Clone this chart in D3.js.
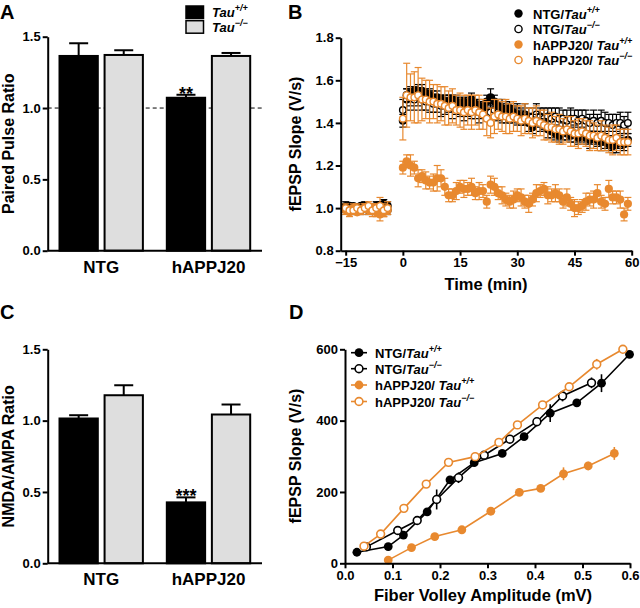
<!DOCTYPE html>
<html>
<head>
<meta charset="utf-8">
<script src="https://cdn.jsdelivr.net/npm/d3@7"></script>
<style>
body { margin: 0; background: #fff; }
svg { display: block; font-family: "Liberation Sans", Arial, sans-serif; font-weight: bold; }
</style>
</head>
<body>
<svg id="fig" width="640" height="608"></svg>
<script>
// ---- data ----
var groups = ['NTG', 'hAPPJ20'];
var genotypes = ['+/+', '−/−'];

// A: paired pulse ratio
var pprWT = [1.365, 1.072], pprWTsem = [0.089, 0.021];
var pprKO = [1.372, 1.365], pprKOsem = [0.033, 0.021];

// C: NMDA/AMPA ratio
var nmdaWT = [1.015, 0.427], nmdaWTsem = [0.023, 0.035];
var nmdaKO = [1.178, 1.043], nmdaKOsem = [0.070, 0.070];

// B: LTP time course (min)
var baseTimes = [-15, -14, -13, -12, -11, -10, -9, -8, -7, -6, -5, -4];
var postTimes = d3.range(0, 60);

var ntgWTbase = [1.00,1.01,0.99,1.00,1.01,1.00,0.99,1.00,1.01,1.00,1.02,1.01];
var ntgWTbaseSem = [0.02,0.01,0.02,0.02,0.01,0.02,0.02,0.01,0.02,0.02,0.02,0.02];
var ntgWTpost = [1.41,1.53,1.54,1.55,1.55,1.55,1.54,1.53,1.52,1.52,
  1.51,1.50,1.50,1.51,1.50,1.49,1.50,1.49,1.51,1.49,
  1.48,1.47,1.50,1.52,1.50,1.48,1.47,1.46,1.47,1.45,
  1.44,1.43,1.42,1.40,1.38,1.41,1.40,1.39,1.37,1.36,
  1.35,1.34,1.36,1.35,1.34,1.35,1.33,1.34,1.33,1.32,
  1.33,1.32,1.31,1.31,1.30,1.29,1.30,1.31,1.30,1.32];
var ntgWTpostSem = [0.03,0.03,0.03,0.02,0.03,0.03,0.02,0.03,0.03,0.03,
  0.02,0.03,0.03,0.02,0.03,0.03,0.02,0.03,0.03,0.02,
  0.03,0.03,0.03,0.04,0.03,0.03,0.04,0.03,0.03,0.03,
  0.03,0.03,0.03,0.04,0.03,0.03,0.04,0.03,0.04,0.03,
  0.03,0.03,0.04,0.03,0.03,0.04,0.03,0.03,0.03,0.04,
  0.03,0.03,0.04,0.03,0.03,0.03,0.04,0.03,0.03,0.03];

var ntgKObase = [1.01,1.00,1.01,1.00,0.99,1.01,1.00,1.00,0.99,1.01,1.00,0.99];
var ntgKObaseSem = [0.02,0.02,0.01,0.02,0.02,0.02,0.01,0.02,0.02,0.02,0.03,0.02];
var ntgKOpost = [1.46,1.51,1.52,1.51,1.52,1.51,1.50,1.50,1.49,1.49,
  1.48,1.48,1.49,1.47,1.48,1.47,1.46,1.47,1.46,1.46,
  1.45,1.46,1.45,1.45,1.46,1.45,1.44,1.45,1.44,1.44,
  1.44,1.43,1.44,1.43,1.43,1.44,1.43,1.42,1.43,1.42,
  1.43,1.42,1.42,1.41,1.42,1.42,1.41,1.42,1.41,1.40,
  1.41,1.40,1.41,1.40,1.40,1.39,1.40,1.40,1.39,1.40];
var ntgKOpostSem = [0.05,0.05,0.04,0.05,0.04,0.05,0.04,0.05,0.04,0.04,
  0.05,0.04,0.04,0.05,0.04,0.04,0.05,0.04,0.04,0.04,
  0.05,0.04,0.04,0.05,0.04,0.04,0.04,0.05,0.04,0.04,
  0.05,0.04,0.05,0.04,0.04,0.05,0.04,0.05,0.04,0.05,
  0.04,0.05,0.04,0.05,0.05,0.04,0.05,0.04,0.05,0.04,
  0.05,0.04,0.05,0.05,0.04,0.05,0.04,0.05,0.04,0.05];

var happWTbase = [0.99,0.98,1.00,0.98,0.99,1.00,0.99,1.00,0.98,0.97,0.98,0.99];
var happWTbaseSem = [0.02,0.02,0.02,0.01,0.02,0.02,0.02,0.02,0.02,0.03,0.02,0.02];
var happWTpost = [1.19,1.22,1.20,1.19,1.14,1.15,1.13,1.12,1.12,1.14,
  1.14,1.10,1.06,1.06,1.08,1.10,1.09,1.09,1.10,1.07,
  1.08,1.08,1.03,1.11,1.10,1.07,1.06,1.04,1.03,1.04,
  1.06,1.05,1.03,1.02,1.04,1.07,1.08,1.09,1.06,1.06,
  1.07,1.06,1.03,1.05,1.02,1.00,1.00,1.01,1.03,1.04,
  1.04,1.07,1.03,1.02,1.09,1.05,1.05,1.04,0.97,1.02];
var happWTpostSem = [0.03,0.03,0.05,0.03,0.04,0.03,0.04,0.03,0.04,0.06,
  0.04,0.04,0.03,0.03,0.04,0.03,0.04,0.03,0.04,0.03,
  0.04,0.03,0.03,0.04,0.04,0.03,0.04,0.03,0.03,0.04,
  0.03,0.04,0.03,0.04,0.03,0.04,0.03,0.03,0.04,0.03,
  0.04,0.03,0.03,0.04,0.03,0.04,0.03,0.03,0.04,0.03,
  0.04,0.04,0.03,0.03,0.04,0.03,0.03,0.04,0.03,0.03];

var happKObase = [1.00,0.99,0.99,1.00,0.99,1.00,1.01,0.99,1.00,1.01,0.99,1.00];
var happKObaseSem = [0.02,0.02,0.02,0.02,0.02,0.02,0.02,0.03,0.02,0.04,0.03,0.03];
var happKOpost = [1.42,1.53,1.52,1.52,1.53,1.51,1.51,1.50,1.50,1.49,
  1.49,1.48,1.47,1.48,1.46,1.46,1.45,1.46,1.45,1.46,
  1.45,1.44,1.42,1.40,1.43,1.44,1.43,1.43,1.42,1.43,
  1.42,1.41,1.42,1.41,1.40,1.41,1.40,1.39,1.38,1.38,
  1.37,1.37,1.36,1.37,1.36,1.35,1.35,1.36,1.35,1.34,
  1.34,1.33,1.34,1.33,1.32,1.32,1.33,1.31,1.31,1.31];
var happKOpostSem = [0.10,0.15,0.11,0.12,0.13,0.10,0.09,0.10,0.08,0.09,
  0.08,0.09,0.08,0.08,0.07,0.08,0.08,0.07,0.08,0.07,
  0.08,0.07,0.08,0.07,0.08,0.07,0.07,0.08,0.07,0.07,
  0.06,0.07,0.07,0.06,0.07,0.07,0.06,0.07,0.06,0.07,
  0.06,0.07,0.06,0.06,0.07,0.06,0.07,0.06,0.06,0.07,
  0.06,0.06,0.07,0.06,0.06,0.07,0.06,0.06,0.06,0.06];

// D: input-output (fiber volley mV vs fEPSP V/s)
var ioNtgWTx = [0.025,0.091,0.123,0.173,0.221,0.272,0.331,0.377,0.432,0.488,0.540,0.599];
var ioNtgWTy = [31,47,79,144,234,282,308,355,421,450,505,586];
var ioNtgWTsem = [0,0,0,0,0,0,0,0,25,0,25,0];
var ioNtgKOx = [0.045,0.111,0.152,0.193,0.239,0.293,0.347,0.404,0.458,0.519];
var ioNtgKOy = [46,92,120,179,240,303,348,397,469,506];
var ioNtgKOsem = [0,0,0,28,15,0,0,0,15,15];
var ioHappWTx = [0.091,0.140,0.189,0.246,0.307,0.367,0.412,0.460,0.512,0.567];
var ioHappWTy = [9,44,75,94,146,199,210,251,273,308];
var ioHappWTsem = [0,0,0,0,0,10,0,18,12,18];
var ioHappKOx = [0.040,0.075,0.124,0.171,0.218,0.274,0.324,0.363,0.416,0.472,0.530,0.585];
var ioHappKOy = [48,82,154,222,283,299,339,388,444,495,558,600];
var ioHappKOsem = [0,0,0,0,0,0,0,0,0,0,15,0];

// ---- drawing ----
var orange = '#e8892f';
var grey = '#dedede';
var svg = d3.select('#fig');

function styleAxis(g) {
  g.attr('font-family', null).attr('font-size', 13).attr('font-weight', 'bold');
  g.select('.domain').attr('stroke-width', 2);
  g.selectAll('.tick line').attr('stroke-width', 2);
  g.selectAll('.tick text').attr('fill', '#000');
}

function tauText(sel, prefix, sup) {
  if (prefix) sel.append('tspan').text(prefix);
  sel.append('tspan').attr('font-style', 'italic').text('Tau');
  sel.append('tspan').attr('font-style', 'italic').attr('font-size', 9).attr('dy', -6).text(sup);
}

function panelLetter(txt, x, y) {
  svg.append('text').attr('x', x).attr('y', y).attr('font-size', 20).text(txt);
}

function yTitle(txt, x, y) {
  svg.append('text').attr('transform', 'translate(' + x + ',' + y + ') rotate(-90)')
    .attr('text-anchor', 'middle').attr('font-size', 16).text(txt);
}

function barPanel(top, wt, wtSem, ko, koSem, label, stars, dashed) {
  var y = d3.scaleLinear().domain([0, 1.5]).range([top + 214, top]);
  var x0 = d3.scaleBand().domain(groups).range([47.7, 262]).paddingInner(0.223).paddingOuter(0.11);
  var x1 = d3.scaleBand().domain(genotypes).range([0, x0.bandwidth()]).paddingInner(0.15);
  var g = svg.append('g');

  if (dashed) {
    g.append('line').attr('x1', 47.7).attr('x2', 262).attr('y1', y(1)).attr('y2', y(1))
      .attr('stroke', '#000').attr('stroke-width', 1).attr('stroke-dasharray', '4,3');
  }

  var bars = [];
  groups.forEach(function(grp, i) {
    bars.push({grp: grp, gen: genotypes[0], v: wt[i], s: wtSem[i], fill: '#000'});
    bars.push({grp: grp, gen: genotypes[1], v: ko[i], s: koSem[i], fill: grey});
  });
  var bw = x1.bandwidth();

  g.selectAll('line.err').data(bars).enter().append('line')
    .attr('x1', function(d) { return x0(d.grp) + x1(d.gen) + bw / 2; })
    .attr('x2', function(d) { return x0(d.grp) + x1(d.gen) + bw / 2; })
    .attr('y1', function(d) { return y(d.v); })
    .attr('y2', function(d) { return y(d.v + d.s); })
    .attr('stroke', '#000').attr('stroke-width', 2);
  g.selectAll('line.cap').data(bars).enter().append('line')
    .attr('x1', function(d) { return x0(d.grp) + x1(d.gen) + bw / 2 - 9.5; })
    .attr('x2', function(d) { return x0(d.grp) + x1(d.gen) + bw / 2 + 9.5; })
    .attr('y1', function(d) { return y(d.v + d.s); })
    .attr('y2', function(d) { return y(d.v + d.s); })
    .attr('stroke', '#000').attr('stroke-width', 2);

  g.selectAll('rect').data(bars).enter().append('rect')
    .attr('x', function(d) { return x0(d.grp) + x1(d.gen); })
    .attr('y', function(d) { return y(d.v); })
    .attr('width', bw)
    .attr('height', function(d) { return y(0) - y(d.v); })
    .attr('fill', function(d) { return d.fill; })
    .attr('stroke', '#000').attr('stroke-width', 2);

  var ax = g.append('g').attr('transform', 'translate(47.7,0)')
    .call(d3.axisLeft(y).tickValues([0, 0.5, 1, 1.5]).tickFormat(d3.format('.1f'))
      .tickSize(5).tickSizeOuter(0).tickPadding(2));
  styleAxis(ax);

  g.append('line').attr('x1', 47.7).attr('x2', 262).attr('y1', y(0)).attr('y2', y(0))
    .attr('stroke', '#000').attr('stroke-width', 2);

  g.selectAll('text.cat').data(groups).enter().append('text')
    .attr('x', function(d) { return x0(d) + x0.bandwidth() / 2; })
    .attr('y', y(0) + 22).attr('text-anchor', 'middle').attr('font-size', 17)
    .text(function(d) { return d; });

  var sb = bars[2];
  g.append('text').attr('x', x0(sb.grp) + x1(sb.gen) + bw / 2).attr('y', y(sb.v + sb.s) + 5)
    .attr('text-anchor', 'middle').attr('font-size', 18).text(stars);

  yTitle(label, 14, top + 107);
}

// panel A
barPanel(36.7, pprWT, pprWTsem, pprKO, pprKOsem, 'Paired Pulse Ratio', '**', true);
panelLetter('A', 0, 19);
var legA = svg.append('g');
[['#000', '+/+', 6], [grey, '−/−', 20.7]].forEach(function(r) {
  legA.append('rect').attr('x', 186).attr('y', r[2]).attr('width', 17.5).attr('height', 12.5)
    .attr('fill', r[0]).attr('stroke', '#000').attr('stroke-width', 1.5);
  tauText(legA.append('text').attr('x', 212).attr('y', r[2] + 11).attr('font-size', 13), '', r[1]);
});

// panel C
barPanel(349.3, nmdaWT, nmdaWTsem, nmdaKO, nmdaKOsem, 'NMDA/AMPA Ratio', '***', false);
panelLetter('C', 0, 319);

// panel B
var tx = d3.scaleLinear().domain([-16.3, 60]).range([340.7, 631.7]);
var ty = d3.scaleLinear().domain([0.8, 1.8]).range([250.7, 37.7]);
var gB = svg.append('g');

var ltpSeries = [
  {name: 'NTG/', sup: '+/+', color: '#000', filled: true,
   y: ntgWTbase.concat(ntgWTpost), s: ntgWTbaseSem.concat(ntgWTpostSem)},
  {name: 'NTG/', sup: '−/−', color: '#000', filled: false,
   y: ntgKObase.concat(ntgKOpost), s: ntgKObaseSem.concat(ntgKOpostSem)},
  {name: 'hAPPJ20/ ', sup: '+/+', color: orange, filled: true,
   y: happWTbase.concat(happWTpost), s: happWTbaseSem.concat(happWTpostSem)},
  {name: 'hAPPJ20/ ', sup: '−/−', color: orange, filled: false,
   y: happKObase.concat(happKOpost), s: happKObaseSem.concat(happKOpostSem)}
];
var allTimes = baseTimes.concat(postTimes);
var drawOrder = [1, 0, 2, 3];

drawOrder.forEach(function(k) {
  var ser = ltpSeries[k];
  var pts = allTimes.map(function(t, i) { return {t: t, v: ser.y[i], s: ser.s[i]}; });
  var sg = gB.append('g');
  sg.selectAll('line.e').data(pts).enter().append('line')
    .attr('x1', function(d) { return tx(d.t); }).attr('x2', function(d) { return tx(d.t); })
    .attr('y1', function(d) { return ty(d.v - d.s); }).attr('y2', function(d) { return ty(d.v + d.s); })
    .attr('stroke', ser.color).attr('stroke-width', 1.2);
  [1, -1].forEach(function(sign) {
    sg.selectAll('line.c' + sign).data(pts).enter().append('line')
      .attr('x1', function(d) { return tx(d.t) - 3.5; }).attr('x2', function(d) { return tx(d.t) + 3.5; })
      .attr('y1', function(d) { return ty(d.v + sign * d.s); }).attr('y2', function(d) { return ty(d.v + sign * d.s); })
      .attr('stroke', ser.color).attr('stroke-width', 1.2);
  });
  sg.selectAll('circle').data(pts).enter().append('circle')
    .attr('cx', function(d) { return tx(d.t); }).attr('cy', function(d) { return ty(d.v); })
    .attr('r', ser.filled ? 4.1 : 3.3)
    .attr('fill', ser.filled ? ser.color : '#fff')
    .attr('stroke', ser.color).attr('stroke-width', ser.filled ? 0 : 1.4);
});

var axBy = gB.append('g').attr('transform', 'translate(340.7,0)')
  .call(d3.axisLeft(ty).tickValues([0.8, 1.0, 1.2, 1.4, 1.6, 1.8]).tickFormat(d3.format('.1f'))
    .tickSize(5).tickSizeOuter(0).tickPadding(2));
styleAxis(axBy);
var axBx = gB.append('g').attr('transform', 'translate(0,250.7)')
  .call(d3.axisBottom(tx).tickValues([-15, 0, 15, 30, 45, 60])
    .tickSize(5).tickSizeOuter(0).tickPadding(2));
styleAxis(axBx);

gB.append('text').attr('x', 486).attr('y', 290).attr('text-anchor', 'middle')
  .attr('font-size', 16.5).text('Time (min)');
yTitle('fEPSP Slope (V/s)', 301, 144);
panelLetter('B', 288, 19);

var legB = [13.5, 29, 44.5, 60];
ltpSeries.forEach(function(ser, i) {
  gB.append('circle').attr('cx', 518.5).attr('cy', legB[i]).attr('r', ser.filled ? 4.2 : 3.6)
    .attr('fill', ser.filled ? ser.color : '#fff').attr('stroke', ser.color)
    .attr('stroke-width', ser.filled ? 0 : 1.4);
  tauText(gB.append('text').attr('x', 533).attr('y', legB[i] + 5).attr('font-size', 13),
    ser.name, ser.sup);
});

// panel D
var fx = d3.scaleLinear().domain([0, 0.6]).range([345, 630]);
var fy = d3.scaleLinear().domain([0, 600]).range([563.3, 349.3]);
var gD = svg.append('g');

var ioSeries = [
  {name: 'NTG/', sup: '+/+', color: '#000', filled: true, x: ioNtgWTx, y: ioNtgWTy, s: ioNtgWTsem},
  {name: 'NTG/', sup: '−/−', color: '#000', filled: false, x: ioNtgKOx, y: ioNtgKOy, s: ioNtgKOsem},
  {name: 'hAPPJ20/ ', sup: '+/+', color: orange, filled: true, x: ioHappWTx, y: ioHappWTy, s: ioHappWTsem},
  {name: 'hAPPJ20/ ', sup: '−/−', color: orange, filled: false, x: ioHappKOx, y: ioHappKOy, s: ioHappKOsem}
];
var ioLine = d3.line().x(function(d) { return fx(d.x); }).y(function(d) { return fy(d.y); });

ioSeries.forEach(function(ser) {
  var pts = ser.x.map(function(xv, i) { return {x: xv, y: ser.y[i], s: ser.s[i]}; });
  var sg = gD.append('g');
  sg.append('path').datum(pts).attr('d', ioLine).attr('fill', 'none')
    .attr('stroke', ser.color).attr('stroke-width', 1.6);
  sg.selectAll('line').data(pts.filter(function(d) { return d.s > 0; })).enter().append('line')
    .attr('x1', function(d) { return fx(d.x); }).attr('x2', function(d) { return fx(d.x); })
    .attr('y1', function(d) { return fy(d.y - d.s); }).attr('y2', function(d) { return fy(d.y + d.s); })
    .attr('stroke', ser.color).attr('stroke-width', 1.6);
  sg.selectAll('circle').data(pts).enter().append('circle')
    .attr('cx', function(d) { return fx(d.x); }).attr('cy', function(d) { return fy(d.y); })
    .attr('r', ser.filled ? 4.4 : 3.9)
    .attr('fill', ser.filled ? ser.color : '#fff')
    .attr('stroke', ser.color).attr('stroke-width', ser.filled ? 0 : 1.6);
});

var axDy = gD.append('g').attr('transform', 'translate(345,0)')
  .call(d3.axisLeft(fy).tickValues([0, 200, 400, 600])
    .tickSize(5).tickSizeOuter(0).tickPadding(2));
styleAxis(axDy);
var axDx = gD.append('g').attr('transform', 'translate(0,563.3)')
  .call(d3.axisBottom(fx).tickValues([0, 0.1, 0.2, 0.3, 0.4, 0.5, 0.6]).tickFormat(d3.format('.1f'))
    .tickSize(5).tickSizeOuter(0).tickPadding(2));
styleAxis(axDx);

gD.append('text').attr('x', 483).attr('y', 601).attr('text-anchor', 'middle')
  .attr('font-size', 16.5).text('Fiber Volley Amplitude (mV)');
yTitle('fEPSP Slope (V/s)', 301, 456);
panelLetter('D', 289, 319);

var legD = [352.7, 368.7, 385, 401.5];
ioSeries.forEach(function(ser, i) {
  gD.append('line').attr('x1', 351).attr('x2', 367).attr('y1', legD[i]).attr('y2', legD[i])
    .attr('stroke', ser.color).attr('stroke-width', 1.6);
  gD.append('circle').attr('cx', 359).attr('cy', legD[i]).attr('r', ser.filled ? 4.4 : 3.9)
    .attr('fill', ser.filled ? ser.color : '#fff').attr('stroke', ser.color)
    .attr('stroke-width', ser.filled ? 0 : 1.6);
  tauText(gD.append('text').attr('x', 375).attr('y', legD[i] + 5).attr('font-size', 13),
    ser.name, ser.sup);
});
</script>
</body>
</html>
